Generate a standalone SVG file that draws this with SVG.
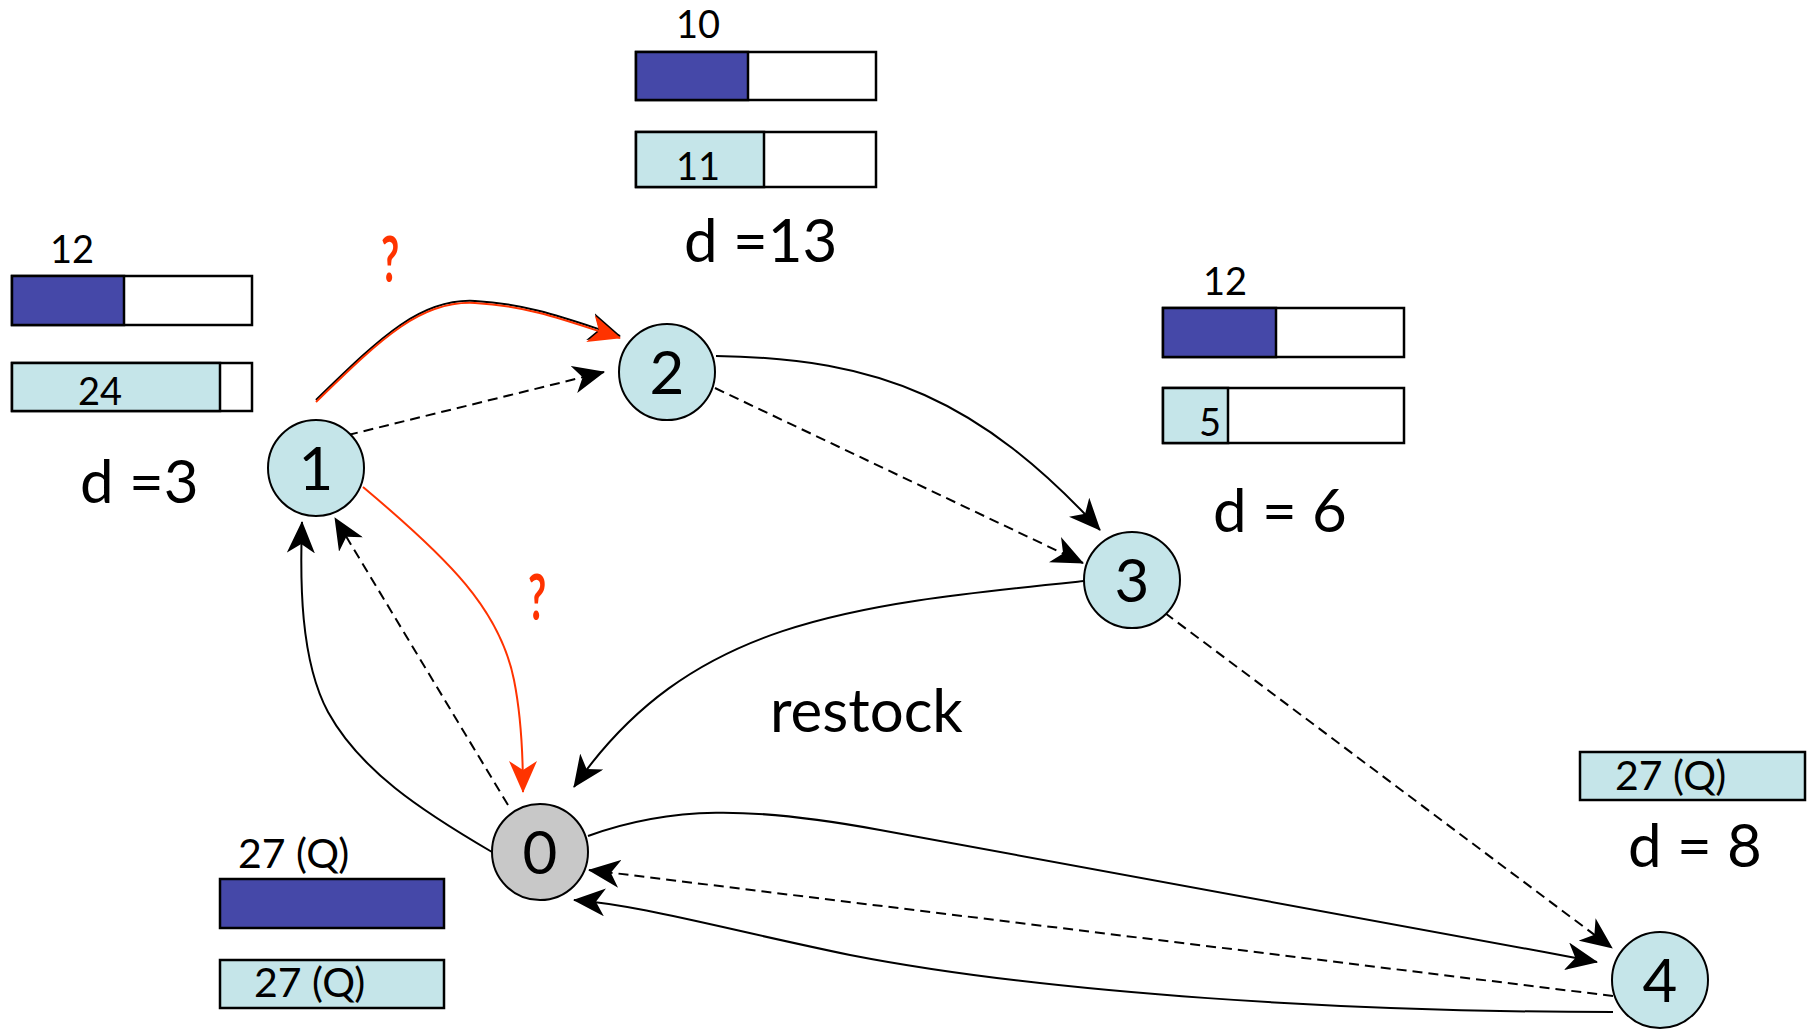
<svg xmlns="http://www.w3.org/2000/svg" width="1807" height="1029" viewBox="0 0 1807 1029">
<style>
  .node{stroke:#000;stroke-width:2}
  .lc{fill:#c5e5e9}
  .gr{fill:#c8c8c8}
  .bar{stroke:#000;stroke-width:2.5}
  .blue{fill:#4548a8}
  .lt{fill:#c5e5e9}
  .wh{fill:#fff}
  .t{font-family:Lato,"Open Sans","Liberation Sans",sans-serif;fill:#000}
  .big{font-size:60px}
  .sm{font-size:38px}
  .qq{font-size:41px}
  .q{font-family:Lato,"Liberation Sans",sans-serif;font-weight:bold;font-size:64px;fill:#ff3300}
  .e{fill:none;stroke:#000;stroke-width:2}
  .d{stroke-dasharray:10 6}
  .r{fill:none;stroke:#ff3300;stroke-width:2}
</style>
<defs>
  <marker id="ab" markerUnits="userSpaceOnUse" markerWidth="32" markerHeight="28" viewBox="0 0 32 28" refX="31" refY="14" orient="auto"><path d="M0,0 L32,14 L0,28 L9,14 Z" fill="#000"/></marker>
  <marker id="ar" markerUnits="userSpaceOnUse" markerWidth="32" markerHeight="28" viewBox="0 0 32 28" refX="31" refY="14" orient="auto"><path d="M0,0 L32,14 L0,28 L9,14 Z" fill="#ff3300"/></marker>
</defs>
<rect width="1807" height="1029" fill="#fff"/>

<g id="connectors">
  <path class="e d" d="M348,435 L604,372" marker-end="url(#ab)"/>
  <path class="e" d="M316,400 C380,338 420,298 475,301 C530,304 570,320 620,336" marker-end="url(#ab)"/>
  <path class="r" d="M316,402 C380,340 420,300 475,303 C530,306 570,322 620,338" marker-end="url(#ar)"/>
  <path class="r" d="M363,487 C450,560 500,610 514,680 C522,720 523,760 523,792" marker-end="url(#ar)"/>
  <path class="e" d="M492,852 C420,810 360,770 328,712 C300,660 300,580 302,522" marker-end="url(#ab)"/>
  <path class="e d" d="M508,805 L335,518" marker-end="url(#ab)"/>
  <path class="e" d="M716,356 C880,358 980,400 1100,530" marker-end="url(#ab)"/>
  <path class="e d" d="M715,388 L1083,563" marker-end="url(#ab)"/>
  <path class="e" d="M1084,581 C850,605 690,620 574,787" marker-end="url(#ab)"/>
  <path class="e d" d="M1165,613 L1612,948" marker-end="url(#ab)"/>
  <path class="e" d="M588,836 C670,806 750,806 880,830 C1100,872 1350,915 1597,962" marker-end="url(#ab)"/>
  <path class="e d" d="M1613,996 L589,870" marker-end="url(#ab)"/>
  <path class="e" d="M1613,1012 C1350,1012 1050,994 850,955 C720,928 640,905 574,900" marker-end="url(#ab)"/>
</g>

<text class="q" transform="translate(381,282) scale(0.62,1)">?</text>
<text class="q" transform="translate(528,620) scale(0.62,1)">?</text>
<text class="t big" x="770" y="732">restock</text>

<g id="node1">
  <circle class="node lc" cx="316" cy="468" r="48"/>
  <text class="t big" x="316" y="490" text-anchor="middle">1</text>
</g>
<g id="node2">
  <circle class="node lc" cx="667" cy="372" r="48"/>
  <text class="t big" x="667" y="394" text-anchor="middle">2</text>
</g>
<g id="node3">
  <circle class="node lc" cx="1132" cy="580" r="48"/>
  <text class="t big" x="1132" y="602" text-anchor="middle">3</text>
</g>
<g id="node0">
  <circle class="node gr" cx="540" cy="852" r="48"/>
  <text class="t big" x="540" y="874" text-anchor="middle">0</text>
</g>
<g id="node4">
  <circle class="node lc" cx="1660" cy="980" r="48"/>
  <text class="t big" x="1660" y="1002" text-anchor="middle">4</text>
</g>

<g id="info1">
  <text class="t sm" x="50" y="263">12</text>
  <rect class="bar wh" x="12" y="276" width="240" height="49"/>
  <rect class="bar blue" x="12" y="276" width="112" height="49"/>
  <rect class="bar wh" x="12" y="363" width="240" height="48"/>
  <rect class="bar lt" x="12" y="363" width="208" height="48"/>
  <text class="t sm" x="100" y="405" text-anchor="middle">24</text>
  <text class="t big" x="80" y="503">d =3</text>
</g>
<g id="info2">
  <text class="t sm" x="676" y="38">10</text>
  <rect class="bar wh" x="636" y="52" width="240" height="48"/>
  <rect class="bar blue" x="636" y="52" width="112" height="48"/>
  <rect class="bar wh" x="636" y="132" width="240" height="55"/>
  <rect class="bar lt" x="636" y="132" width="128" height="55"/>
  <text class="t sm" x="676" y="180">11</text>
  <text class="t big" x="684" y="262">d =13</text>
</g>
<g id="info3">
  <text class="t sm" x="1203" y="295">12</text>
  <rect class="bar wh" x="1163" y="308" width="241" height="49"/>
  <rect class="bar blue" x="1163" y="308" width="113" height="49"/>
  <rect class="bar wh" x="1163" y="388" width="241" height="55"/>
  <rect class="bar lt" x="1163" y="388" width="65" height="55"/>
  <text class="t sm" x="1199" y="436">5</text>
  <text class="t big" x="1213" y="532">d = 6</text>
</g>
<g id="info0">
  <text class="t qq" x="238" y="868">27 (Q)</text>
  <rect class="bar blue" x="220" y="879" width="224" height="49"/>
  <rect class="bar lt" x="220" y="960" width="224" height="48"/>
  <text class="t qq" x="254" y="997">27 (Q)</text>
</g>
<g id="info4">
  <rect class="bar lt" x="1580" y="752" width="225" height="48"/>
  <text class="t qq" x="1615" y="790">27 (Q)</text>
  <text class="t big" x="1628" y="867">d = 8</text>
</g>
</svg>
